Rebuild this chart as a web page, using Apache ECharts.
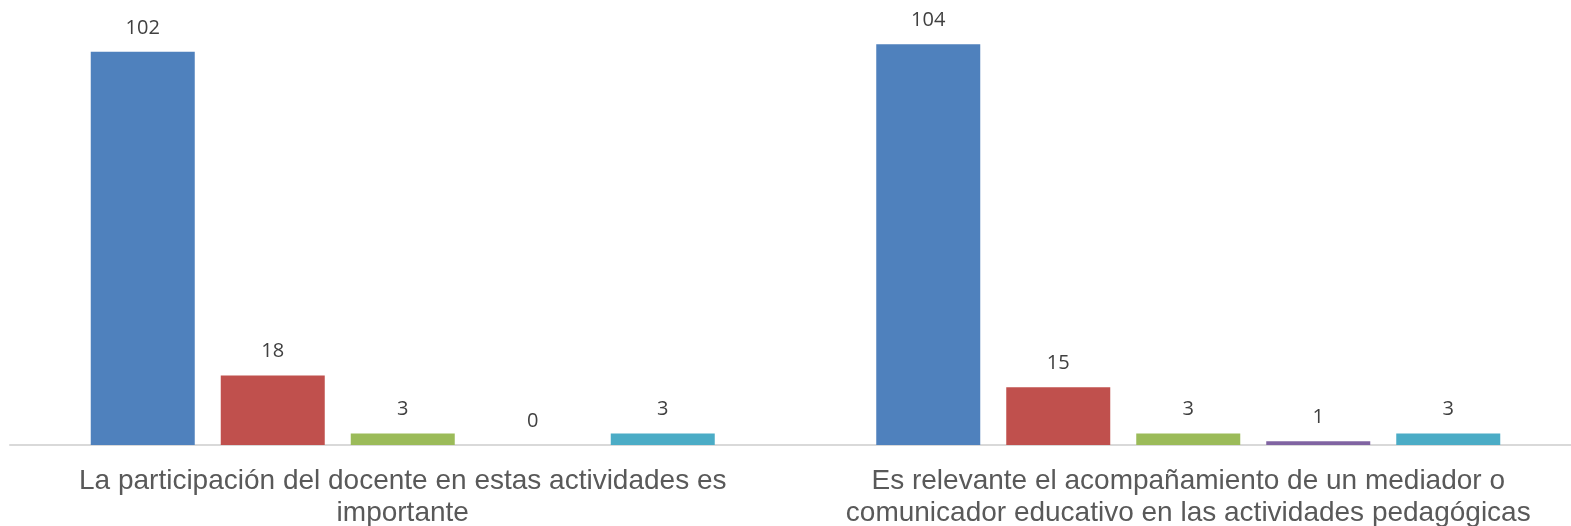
<!DOCTYPE html>
<html>
<head>
<meta charset="utf-8">
<script src="https://cdn.jsdelivr.net/npm/echarts@6/dist/echarts.min.js"></script>
<style>html,body{margin:0;padding:0;background:#fff;}#c{width:1571px;height:526px;}</style>
</head>
<body>
<div id="c"></div>
<script>
const categories = [
  "La participación del docente en estas actividades es\nimportante",
  "Es relevante el acompañamiento de un mediador o\ncomunicador educativo en las actividades pedagógicas"
];
const seriesNames = ["Serie 1", "Serie 2", "Serie 3", "Serie 4", "Serie 5"];
const serie1 = [102, 104];
const serie2 = [18, 15];
const serie3 = [3, 3];
const serie4 = [0, 1];
const serie5 = [3, 3];
const colors = ["#4F81BD", "#C0504D", "#9BBB59", "#8064A2", "#4BACC6"];

const values = [serie1, serie2, serie3, serie4, serie5];
const chart = echarts.init(document.getElementById('c'), null, {renderer: 'canvas'});
chart.setOption({
  animation: false,
  grid: {left: 10, width: 1571, top: 21, height: 424, containLabel: false, outerBoundsMode: 'none'},
  xAxis: {
    type: 'category',
    data: categories,
    axisLine: {lineStyle: {color: '#D9D9D9', width: 2}},
    axisTick: {show: false},
    axisLabel: {
      color: '#595959', fontSize: 28, fontFamily: 'Liberation Sans, Arial, sans-serif',
      lineHeight: 32, margin: 20, interval: 0
    }
  },
  yAxis: {
    type: 'value', min: 0, max: 110, show: false,
    splitLine: {show: false}
  },
  series: values.map((v, i) => ({
    name: seriesNames[i],
    type: 'bar',
    data: v,
    barWidth: 104,
    barGap: '25%',
    itemStyle: {color: colors[i]},
    label: {
      show: true, position: 'top', distance: 14,
      color: '#404040', fontSize: 20, fontFamily: 'Open Sans, Lato, sans-serif'
    }
  }))
});
</script>
</body>
</html>
